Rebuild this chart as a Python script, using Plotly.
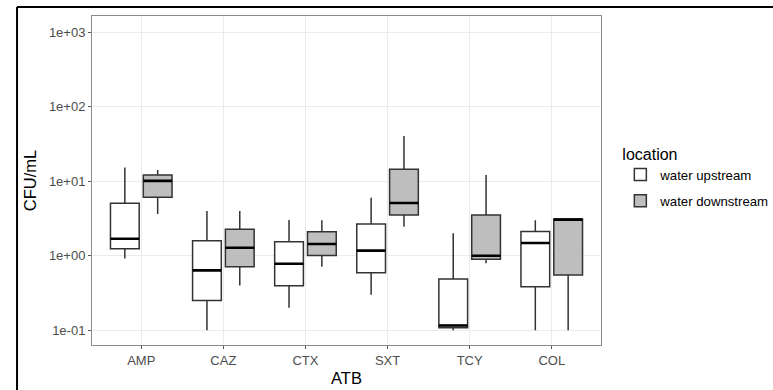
import plotly.graph_objects as go

categories = ["AMP", "CAZ", "CTX", "SXT", "TCY", "COL"]
groups = ["water upstream", "water downstream"]

# upstream statistics
up_low = [0.92, 0.10, 0.20, 0.30, 0.100, 0.10]
up_q1 = [1.24, 0.252, 0.396, 0.59, 0.108, 0.384]
up_med = [1.69, 0.637, 0.78, 1.17, 0.116, 1.48]
up_q3 = [5.05, 1.59, 1.54, 2.66, 0.487, 2.12]
up_high = [15.2, 3.98, 3.01, 6.0, 2.0, 3.0]

# downstream statistics
dn_low = [3.63, 0.40, 0.71, 2.45, 0.79, 0.10]
dn_q1 = [6.08, 0.71, 1.01, 3.52, 0.895, 0.55]
dn_med = [10.1, 1.28, 1.44, 5.1, 1.0, 3.05]
dn_q3 = [12.1, 2.26, 2.10, 14.5, 3.52, 3.11]
dn_high = [14.1, 3.98, 3.0, 40.4, 12.1, 3.11]

tick_vals = [0.1, 1, 10, 100, 1000]
tick_text = ["1e-01", "1e+00", "1e+01", "1e+02", "1e+03"]

fills = ["#FFFFFF", "#BEBEBE"]
line_col = "#333333"

fig = go.Figure()
stats = [
    (up_low, up_q1, up_med, up_q3, up_high),
    (dn_low, dn_q1, dn_med, dn_q3, dn_high),
]
for i, (lo, q1, md, q3, hi) in enumerate(stats):
    fig.add_trace(go.Box(
        name=groups[i], x=categories, q1=q1, median=md, q3=q3,
        lowerfence=lo, upperfence=hi,
        fillcolor=fills[i], line=dict(color=line_col, width=1.5),
        whiskerwidth=0, offsetgroup=str(i), boxpoints=False,
        legendgroup=str(i), hoverinfo="skip",
    ))
for i, (lo, q1, md, q3, hi) in enumerate(stats):
    fig.add_trace(go.Box(
        name=groups[i] + " median", x=categories, q1=md, median=md, q3=md,
        lowerfence=md, upperfence=md,
        fillcolor="rgba(0,0,0,0)", line=dict(color="#000000", width=2.6),
        whiskerwidth=0, offsetgroup=str(i), boxpoints=False,
        legendgroup=str(i), showlegend=False, hoverinfo="skip",
    ))

axis_common = dict(
    showgrid=True, gridcolor="#EBEBEB", gridwidth=1,
    ticks="outside", ticklen=3, tickcolor="#555555",
    tickfont=dict(size=13, color="#4D4D4D"),
    showline=True, linecolor="#8C8C8C", mirror=True, linewidth=1,
    zeroline=False, automargin=False,
)

fig.update_layout(
    template="none",
    width=773, height=390,
    margin=dict(l=92, r=172, t=16, b=45, autoexpand=False),
    paper_bgcolor="white", plot_bgcolor="white",
    font=dict(family="Liberation Sans, Arial, sans-serif", color="#000000"),
    boxmode="group", boxgap=0.2, boxgroupgap=0.125,
    legend=dict(
        title=dict(text="location", font=dict(size=16, color="#000000")),
        x=1.038, y=0.627, xanchor="left", yanchor="top",
        font=dict(size=13.2, color="#000000"), tracegroupgap=6,
        bgcolor="rgba(0,0,0,0)",
    ),
    xaxis=dict(
        type="category", categoryorder="array", categoryarray=categories,
        range=[-0.6, 5.6],
        title=dict(text="ATB", font=dict(size=16.5, color="#000000"), standoff=5),
        **axis_common,
    ),
    yaxis=dict(
        type="log", range=[-1.197, 3.215],
        tickvals=tick_vals, ticktext=tick_text,
        title=dict(text="CFU/mL", font=dict(size=16.5, color="#000000"), standoff=8),
        **axis_common,
    ),
)

# outer frame lines (top and left of the image border)
fig.add_shape(type="line", xref="paper", yref="paper",
              x0=-0.1473, x1=1.40, y0=1.0274, y1=1.0274,
              line=dict(color="#000000", width=2))
fig.add_shape(type="line", xref="paper", yref="paper",
              x0=-0.1473, x1=-0.1473, y0=-0.2, y1=1.0274,
              line=dict(color="#000000", width=2))

fig.write_html("out.html", config={"displayModeBar": False},
               post_script="document.body.style.margin='0px';document.body.style.overflow='hidden';")
